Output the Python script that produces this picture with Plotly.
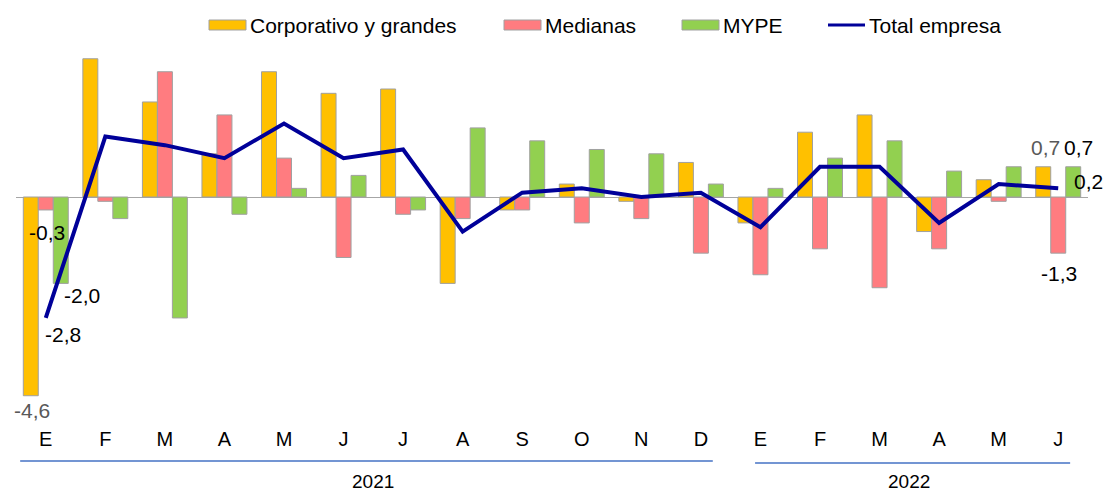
import plotly.graph_objects as go

months = ["E", "F", "M", "A", "M", "J", "J", "A", "S", "O", "N", "D",
          "E", "F", "M", "A", "M", "J"]
years = ["2021", "2022"]
corporativo = [-4.6, 3.2, 2.2, 1.0, 2.9, 2.4, 2.5, -2.0, -0.3, 0.3, -0.1, 0.8,
               -0.6, 1.5, 1.9, -0.8, 0.4, 0.7]
medianas = [-0.3, -0.1, 2.9, 1.9, 0.9, -1.4, -0.4, -0.5, -0.3, -0.6, -0.5, -1.3,
            -1.8, -1.2, -2.1, -1.2, -0.1, -1.3]
mype = [-2.0, -0.5, -2.8, -0.4, 0.2, 0.5, -0.3, 1.6, 1.3, 1.1, 1.0, 0.3,
        0.2, 0.9, 1.3, 0.6, 0.7, 0.7]
total = [-2.8, 1.4, 1.2, 0.9, 1.7, 0.9, 1.1, -0.8, 0.1, 0.2, 0.0, 0.1,
         -0.7, 0.7, 0.7, -0.6, 0.3, 0.2]

C_ORANGE = "#FFC000"
C_PINK = "#FF7C80"
C_GREEN = "#92D050"
C_LINE = "#000099"
C_EDGE = "#A0A0A0"
FONT = "Arial, Liberation Sans, sans-serif"

W, H = 1107, 493
L, R, T, B = 16, 19, 50, 68
PW, PH = W - L - R, H - T - B
ZERO_PX = 197
PX_PER_UNIT = 43.2
ymax = (ZERO_PX - T) / PX_PER_UNIT
ymin = -((H - B) - ZERO_PX) / PX_PER_UNIT


def px2x(p):
    return (p - L) / PW


def px2y(p):
    return ((H - B) - p) / PH


def fmt(v):
    return f"{v:.1f}".replace(".", ",")


x = list(range(len(months)))
fig = go.Figure()
for name, vals, col in [("Corporativo y grandes", corporativo, C_ORANGE),
                        ("Medianas", medianas, C_PINK),
                        ("MYPE", mype, C_GREEN)]:
    fig.add_trace(go.Bar(x=x, y=vals, name=name, marker_color=col,
                         marker_line=dict(color=C_EDGE, width=1),
                         showlegend=False))
fig.add_trace(go.Scatter(x=x, y=total, name="Total empresa", mode="lines",
                         line=dict(color=C_LINE, width=4), showlegend=False))

annotations = []
last = len(months) - 1
label_specs = [
    (0, corporativo[0], -14, -15, "#595959"),
    (0, medianas[0], 1, -23, "black"),
    (0, mype[0], 36, -12, "black"),
    (0, total[0], 17, -17, "black"),
    (last, corporativo[last], -13, 19, "#595959"),
    (last, mype[last], 20, 19, "black"),
    (last, total[last], 30, 7, "black"),
    (last, medianas[last], 1, -20, "black"),
]
for xi, v, xs, ys, col in label_specs:
    annotations.append(dict(x=xi, y=v, xref="x", yref="y", text=fmt(v),
                            showarrow=False, xshift=xs, yshift=ys,
                            font=dict(size=21, color=col, family=FONT)))

# year groups
shapes = []
groups = [(years[0], 0, 11, -0.43, 0.2, 461),
          (years[1], 12, 17, -0.09, 0.2, 463)]
for yr, a, b, pad0, pad1, ypx in groups:
    shapes.append(dict(type="line", xref="x", yref="paper",
                       x0=a + pad0, x1=b + pad1,
                       y0=px2y(ypx), y1=px2y(ypx),
                       line=dict(color="#4472C4", width=1.5)))
    annotations.append(dict(x=(a + b) / 2, y=px2y(482), xref="x", yref="paper",
                            text=yr, showarrow=False, yanchor="middle",
                            font=dict(size=19, color="black", family=FONT)))

# manual legend
legend_items = [("Corporativo y grandes", C_ORANGE, 209, 246, "bar"),
                ("Medianas", C_PINK, 504, 541, "bar"),
                ("MYPE", C_GREEN, 682, 719, "bar"),
                ("Total empresa", C_LINE, 828, 865, "line")]
for name, col, x0, x1, kind in legend_items:
    if kind == "bar":
        shapes.append(dict(type="rect", xref="paper", yref="paper",
                           x0=px2x(x0), x1=px2x(x1), y0=px2y(30), y1=px2y(20),
                           fillcolor=col, line=dict(color=C_EDGE, width=1)))
    else:
        shapes.append(dict(type="line", xref="paper", yref="paper",
                           x0=px2x(x0), x1=px2x(x1), y0=px2y(25), y1=px2y(25),
                           line=dict(color=col, width=3)))
    annotations.append(dict(x=px2x(x1 + 2), y=px2y(25), xref="paper", yref="paper",
                            text=name, showarrow=False, xanchor="left",
                            yanchor="middle",
                            font=dict(size=21, color="black", family=FONT)))

fig.update_layout(
    width=W, height=H,
    margin=dict(l=L, r=R, t=T, b=B),
    paper_bgcolor="white", plot_bgcolor="white",
    barmode="group", bargap=0.245, bargroupgap=0,
    font=dict(family=FONT, color="black"),
    shapes=shapes, annotations=annotations,
    xaxis=dict(range=[-0.5, len(months) - 0.5], tickmode="array",
               tickvals=x, ticktext=months, showgrid=False, zeroline=False,
               showline=False, ticks="", tickfont=dict(size=20, color="black")),
    yaxis=dict(range=[ymin, ymax], showgrid=False, zeroline=True,
               zerolinecolor="#A6A6A6", zerolinewidth=1, showticklabels=False,
               showline=False),
)

fig.write_html(
    "out.html",
    config={"displayModeBar": False},
    post_script="document.body.style.margin='0';"
                "document.body.style.overflow='hidden';",
)
